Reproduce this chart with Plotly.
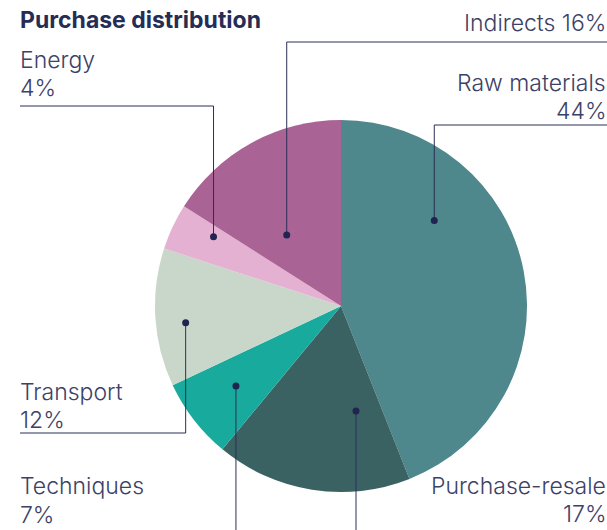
import math
import plotly.graph_objects as go

# Purchase split by category (percent of total spend)
categories = ["Raw materials", "Purchase-resale", "Techniques", "Transport", "Energy", "Indirects"]
shares = [44, 17, 7, 12, 4, 16]
colors = ["#4E878C", "#3B6263", "#18AA9C", "#C9D7CB", "#E4B1D2", "#A96394"]

# Where each leader dot sits: fraction along the slice arc and fraction of radius
dot_along = [0.30, 0.22, 0.52, 0.44, 0.73, 0.35]
dot_radius = [0.68, 0.57, 0.71, 0.84, 0.78, 0.48]
# Leader routing: end row of the vertical segment (px from top) and horizontal end x (px)
leader_y = [125, 530, 530, 433, 106, 42]
leader_x_end = [607, None, None, 20, 20, 607]

# Label lines (name, value) with the baseline row of each line
label_side = ["right", "right", "left", "left", "left", "right"]
label_x = [607, 607, 18.5, 18.5, 18.5, 607]
label_lines = [
    [("Raw materials", 92), ("44%", 120)],
    [("Purchase-resale", 495), ("17%", 523)],
    [("Techniques", 495), ("7%", 524)],
    [("Transport", 401), ("12%", 429)],
    [("Energy", 69), ("4%", 97)],
    [("Indirects 16%", 32)],
]

W, H = 607, 530
CX, CY, R = 341, 306, 186
INK = "#2A2F57"
TEXT = "#3C4166"
FS = 23
DESC = 0.28 * FS  # gap between baseline and bottom of a text box


def px(x):
    return x / W


def py(y):
    return 1 - y / H


fig = go.Figure(go.Pie(
    labels=categories,
    values=shares,
    sort=False,
    direction="clockwise",
    rotation=0,
    marker=dict(colors=colors, line=dict(width=0)),
    textinfo="none",
    hoverinfo="label+percent",
    showlegend=False,
    domain=dict(x=[px(CX - R), px(CX + R)], y=[py(CY + R), py(CY - R)]),
))

shapes = []
annotations = []
total = sum(shares)
start = 0.0
for i, v in enumerate(shares):
    span = 360.0 * v / total
    ang = math.radians(start + dot_along[i] * span)
    start += span
    dx = CX + dot_radius[i] * R * math.sin(ang)
    dy = CY - dot_radius[i] * R * math.cos(ang)

    # vertical leader
    shapes.append(dict(type="line", xref="paper", yref="paper",
                       x0=px(dx), x1=px(dx), y0=py(dy), y1=py(leader_y[i]),
                       line=dict(color=INK, width=1)))
    # horizontal leader
    if leader_x_end[i] is not None:
        shapes.append(dict(type="line", xref="paper", yref="paper",
                           x0=px(dx), x1=px(leader_x_end[i]),
                           y0=py(leader_y[i]), y1=py(leader_y[i]),
                           line=dict(color=INK, width=1)))
    # dot
    shapes.append(dict(type="circle", xref="paper", yref="paper",
                       xsizemode="pixel", ysizemode="pixel",
                       xanchor=px(dx), yanchor=py(dy),
                       x0=-3.5, x1=3.5, y0=-3.5, y1=3.5,
                       fillcolor="#1F2550", line=dict(width=0)))

    for txt, base in label_lines[i]:
        annotations.append(dict(
            text=txt, xref="paper", yref="paper",
            x=px(label_x[i]), y=py(base + DESC),
            xanchor=label_side[i], yanchor="bottom", align=label_side[i],
            showarrow=False, borderpad=0,
            font=dict(family="Inter", size=FS, color=TEXT, weight=300),
        ))

annotations.append(dict(
    text="<b>Purchase distribution</b>", xref="paper", yref="paper",
    x=px(19), y=py(5), xanchor="left", yanchor="top", showarrow=False,
    borderpad=0, font=dict(family="Inter", size=23, color="#262D55"),
))

fig.update_layout(
    width=W, height=H,
    margin=dict(l=0, r=0, t=0, b=0),
    paper_bgcolor="white", plot_bgcolor="white",
    shapes=shapes, annotations=annotations,
)

fig.write_html("out.html")
